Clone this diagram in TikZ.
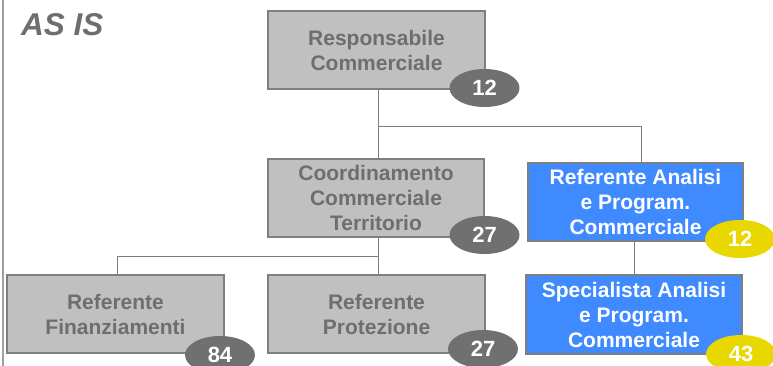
\documentclass[tikz,border=0pt]{standalone}
\usepackage{fontspec}
\setmainfont{Liberation Sans}
\usetikzlibrary{shapes.geometric}
\definecolor{boxgray}{HTML}{C0C0C0}
\definecolor{edgegray}{HTML}{7F7F7F}
\definecolor{txtgray}{HTML}{6E6E6E}
\definecolor{badgegray}{HTML}{707070}
\definecolor{boxblue}{HTML}{3F8AFF}
\definecolor{badgeyellow}{HTML}{E8D800}
\definecolor{framegray}{HTML}{A0A0A0}
\tikzset{
  orgbox/.style={draw=edgegray, line width=2pt, minimum width=#1, minimum height=78pt,
    inner sep=0pt, align=center, font=\bfseries\fontsize{21}{25}\selectfont},
  orgbox/.default=217pt,
  graybox/.style={orgbox, fill=boxgray, text=txtgray},
  bluebox/.style={orgbox, fill=boxblue, text=white},
  badge/.style={ellipse, minimum width=70pt, minimum height=38pt, inner sep=0pt,
    text=white, font=\bfseries\fontsize{22}{24}\selectfont},
  graybadge/.style={badge, fill=badgegray},
  yellowbadge/.style={badge, fill=badgeyellow},
  conn/.style={draw=edgegray, line width=1pt}
}
\begin{document}
\begin{tikzpicture}[x=1pt,y=-1pt]
\useasboundingbox (0,0) rectangle (773,366);
\clip (0,0) rectangle (773,366);
\draw[framegray, line width=2pt] (3,0) -- (3,366);
\node[anchor=base west, text=txtgray, font=\bfseries\itshape\fontsize{31.5}{33}\selectfont, inner sep=0pt] (title) at (21,35.5) {AS IS};

\node[graybox] (B1) at (376.5,50) {Responsabile\\Commerciale};
\node[graybox, minimum width=216pt] (B2) at (376,198) {Coordinamento\\Commerciale\\Territorio};
\node[bluebox, minimum width=215pt] (B3) at (635.5,202) {Referente Analisi\\e Program.\\Commerciale};
\node[graybox] (B4) at (115.5,314) {Referente\\Finanziamenti};
\node[graybox] (B5) at (376.5,314) {Referente\\Protezione};
\node[bluebox, minimum width=216pt, minimum height=79pt] (B6) at (634,314.5) {Specialista Analisi\\e Program.\\Commerciale};

\coordinate (j1) at (378,127);
\coordinate (j2) at (378,256);
\draw[conn] ([xshift=1.5pt]B1.south) -- ([xshift=2pt]B2.north);
\draw[conn] (j1) -| ([xshift=6pt]B3.north);
\draw[conn] ([xshift=2pt]B2.south) -- ([xshift=1.5pt]B5.north);
\draw[conn] (j2) -| ([xshift=1.5pt]B4.north);
\draw[conn] (B6.north |- B3.south) -- (B6.north);

\node[graybadge] (n1) at (484.5,88) {12};
\node[graybadge] (n2) at (484.5,235) {27};
\node[yellowbadge] (n3) at (740,239) {12};
\node[graybadge] (n4) at (220,355) {84};
\node[graybadge] (n5) at (483,349) {27};
\node[yellowbadge] (n6) at (741,354) {43};
\end{tikzpicture}
\end{document}
